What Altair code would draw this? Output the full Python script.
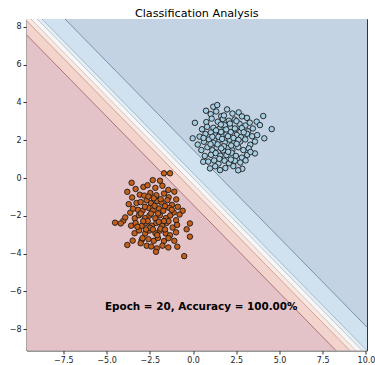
import altair as alt
import pandas as pd

# ---------------- data ----------------
title_text = "Classification Analysis"
note_text = "Epoch = 20, Accuracy = 100.00%"
note_x = [-5.09]
note_y = [-6.82]

x_domain = [-9.63, 10.06]
y_domain = [-9.12, 8.41]
x_ticks = [-7.5, -5.0, -2.5, 0.0, 2.5, 5.0, 7.5, 10.0]
y_ticks = [-8, -6, -4, -2, 0, 2, 4, 6, 8]

# decision-boundary contour lines: y = slope * x + intercept
boundary_slope = -0.933
boundary_intercepts = [-1.41, -0.66, -0.33, 0.00, 0.26, 1.50]
band_names = ["b0", "b1", "b2", "b3", "b4", "b5", "b6"]
band_colors = ["#e4c3c8", "#f2d4cd", "#f9e8e2", "#f7f7f7", "#e4eef5", "#d0e2ef", "#c3d3e3"]
line_names = ["l0", "l1", "l2", "l3", "l4", "l5"]
line_colors = ["#9a5560", "#c39085", "#cdb7b0", "#b2bcc6", "#98acc0", "#5f7d99"]

blue_x = [0.11, -0.02, 0.75, 1.17, 1.40, 4.06, 4.55, 4.12, 3.68, 3.87, 2.85, 3.58, 1.56, 0.98, 0.59,
          1.02, 1.34, 1.63, 1.97, 2.28, 2.64, 2.83, 3.12,
          0.77, 1.08, 1.43, 1.72, 2.07, 2.41, 2.69, 3.03, 3.28,
          0.52, 0.81, 1.18, 1.53, 1.84, 2.16, 2.47, 2.82, 3.18, 3.46,
          0.38, 0.72, 1.03, 1.29, 1.62, 1.93, 2.18, 2.53, 2.77, 3.12, 3.42, 3.71,
          0.27, 0.63, 0.92, 1.17, 1.52, 1.83, 2.12, 2.37, 2.73, 3.02, 3.31, 3.58,
          0.48, 0.83, 1.12, 1.37, 1.73, 2.03, 2.27, 2.62, 2.91, 3.22,
          0.68, 1.04, 1.31, 1.58, 1.93, 2.23, 2.48, 2.82, 3.13,
          0.88, 1.22, 1.47, 1.82, 2.08, 2.42, 2.73, 3.04,
          1.28, 1.87, 2.33, 2.61,
          1.47, 1.68, 1.92, 2.02, 2.34, 1.42, 2.21, 1.61, 2.63, 1.12, 2.03, 1.78, 2.42, 1.33,
          2.93, 1.01, 2.52, 1.63, 2.13, 1.79, 2.51, 1.52, 2.19, 0.61, 3.32]
blue_y = [2.92, 2.10, 3.56, 3.77, 3.86, 3.28, 2.59, 2.10, 2.98, 2.80, 0.49, 1.30, 0.42, 0.51, 0.86,
          3.38, 3.52, 3.27, 3.63, 3.41, 3.47, 3.26, 3.18,
          2.96, 3.14, 2.98, 3.12, 3.03, 3.09, 2.87, 2.78, 2.93,
          2.58, 2.71, 2.66, 2.61, 2.79, 2.69, 2.57, 2.64, 2.47, 2.62,
          2.19, 2.33, 2.41, 2.27, 2.44, 2.31, 2.43, 2.28, 2.16, 2.34, 2.21, 2.27,
          1.77, 1.92, 2.04, 1.87, 2.02, 1.88, 2.03, 1.86, 1.93, 2.04, 1.76, 1.93,
          1.48, 1.63, 1.47, 1.62, 1.46, 1.58, 1.47, 1.63, 1.48, 1.57,
          1.17, 1.23, 1.32, 1.18, 1.21, 1.34, 1.17, 1.08, 1.22,
          0.87, 0.93, 0.77, 0.92, 0.78, 0.91, 0.82, 0.93,
          0.62, 0.53, 0.63, 0.41,
          2.18, 2.07, 2.57, 2.21, 2.12, 1.78, 1.72, 2.83, 2.02, 2.18, 1.39, 1.68, 2.62, 2.52,
          2.42, 1.79, 1.81, 1.57, 2.88, 3.31, 3.01, 1.02, 0.98, 2.12, 1.38]

orange_x = [-4.51, -4.03, -4.18, -3.55, -3.80, -2.33, -1.91, -1.68, -1.33, -0.18, -0.37, -0.60,
            -0.18, -0.51, -0.91, -1.43, -2.10, -2.14, -2.68, -3.80, -3.49, -2.97, -3.03,
            -3.32, -2.87, -2.63, -2.18, -1.77, -1.43, -1.08,
            -3.52, -3.08, -2.82, -2.47, -2.12, -1.68, -1.41, -0.97,
            -3.72, -3.27, -3.03, -2.68, -2.43, -2.08, -1.82, -1.48, -1.22, -0.88,
            -3.63, -3.18, -2.92, -2.57, -2.33, -1.97, -1.72, -1.38, -1.12, -0.78,
            -3.92, -3.37, -3.13, -2.77, -2.52, -2.18, -1.92, -1.57, -1.32, -0.98,
            -3.58, -3.32, -2.97, -2.72, -2.38, -2.12, -1.78, -1.52, -1.18, -0.92,
            -3.38, -3.12, -2.77, -2.53, -2.17, -1.92, -1.58, -1.33, -0.98,
            -2.92, -2.58, -2.27, -2.03, -1.68, -1.42, -1.08,
            -2.42, -1.77,
            -2.43, -2.62, -1.98, -2.22, -2.78, -1.62, -2.48, -1.88, -2.72, -3.02, -1.42, -2.27,
            -1.87, -2.88, -2.02, -2.32, -3.22, -1.68, -2.58, -1.62, -1.23, -3.47, -2.07]
orange_y = [-2.36, -2.26, -2.40, -0.25, -0.73, -0.11, -0.14, 0.25, 0.25, -2.40, -2.71, -1.73,
            -3.10, -4.13, -3.63, -3.67, -3.72, -3.90, -3.58, -3.54, -3.31, -3.28, -3.45,
            -0.58, -0.47, -0.38, -0.52, -0.41, -0.63, -0.72,
            -1.03, -0.88, -0.93, -0.79, -0.91, -0.82, -1.02, -1.13,
            -1.38, -1.32, -1.27, -1.18, -1.33, -1.22, -1.29, -1.17, -1.42, -1.52,
            -1.83, -1.68, -1.73, -1.58, -1.72, -1.61, -1.73, -1.58, -1.82, -1.93,
            -2.08, -2.13, -1.97, -2.12, -1.98, -2.13, -1.97, -2.12, -1.98, -2.23,
            -2.52, -2.38, -2.53, -2.37, -2.52, -2.38, -2.53, -2.37, -2.62, -2.48,
            -2.92, -2.77, -2.93, -2.78, -2.92, -2.78, -2.93, -3.03, -2.87,
            -3.18, -3.23, -3.32, -3.17, -3.33, -3.18, -3.32,
            -3.62, -3.58,
            -1.88, -2.27, -2.32, -1.47, -1.52, -1.48, -2.63, -2.68, -2.72, -1.88, -2.28, -1.07,
            -1.12, -2.28, -1.87, -2.72, -2.58, -2.27, -0.98, -2.72, -1.68, -1.62, -3.02]

# ---------------- tables built from the arrays ----------------
far = 60.0
lows = [-far] + boundary_intercepts
highs = boundary_intercepts + [far]
band_rows = []
for name, lo, hi in zip(band_names, lows, highs):
    for xv in x_domain:
        band_rows.append({"band": name, "x": xv,
                          "y": boundary_slope * xv + lo,
                          "y2": boundary_slope * xv + hi})
bands_df = pd.DataFrame(band_rows)

line_rows = []
for name, c in zip(line_names, boundary_intercepts):
    for xv in x_domain:
        line_rows.append({"band": name, "x": xv, "y": boundary_slope * xv + c})
lines_df = pd.DataFrame(line_rows)

blue_df = pd.DataFrame({"x": blue_x, "y": blue_y})
orange_df = pd.DataFrame({"x": orange_x, "y": orange_y})
note_df = pd.DataFrame({"x": note_x, "y": note_y, "t": [note_text]})

# ---------------- encodings ----------------
FONT = "DejaVu Sans"
x_enc = alt.X("x:Q", scale=alt.Scale(domain=x_domain, nice=False, zero=False),
              axis=alt.Axis(values=x_ticks, title=None, grid=False, domain=False,
                            labelExpr="replace(format(datum.value, '.1f'), '-', '\u2212')",
                            tickSize=3.5, tickColor="#333", labelColor="#222",
                            labelFont=FONT, labelFontSize=8, labelPadding=2))
y_enc = alt.Y("y:Q", scale=alt.Scale(domain=y_domain, nice=False, zero=False),
              axis=alt.Axis(values=y_ticks, title=None, grid=False, domain=False,
                            labelExpr="replace(format(datum.value, 'd'), '-', '\u2212')",
                            tickSize=3.5, tickColor="#333", labelColor="#222",
                            labelFont=FONT, labelFontSize=8, labelPadding=2))

color_scale = alt.Scale(domain=band_names + line_names, range=band_colors + line_colors)

areas = alt.Chart(bands_df).mark_area(clip=True, opacity=1).encode(
    x=x_enc, y=y_enc, y2="y2:Q",
    color=alt.Color("band:N", scale=color_scale, legend=None))

lines = alt.Chart(lines_df).mark_line(clip=True, strokeWidth=0.8).encode(
    x=x_enc, y=y_enc,
    color=alt.Color("band:N", scale=color_scale, legend=None))

orange_pts = alt.Chart(orange_df).mark_point(
    filled=True, shape="circle", size=30, fill="#c45f1c", stroke="#1a1a1a",
    strokeWidth=0.9, opacity=1).encode(x=x_enc, y=y_enc)

blue_pts = alt.Chart(blue_df).mark_point(
    filled=True, shape="circle", size=30, fill="#a6cee3", stroke="#1a1a1a",
    strokeWidth=0.9, opacity=1).encode(x=x_enc, y=y_enc)

note = alt.Chart(note_df).mark_text(
    align="left", baseline="middle", font=FONT, fontSize=10.4,
    fontWeight="bold", color="black").encode(x=x_enc, y=y_enc, text="t:N")

chart = alt.layer(areas, lines, orange_pts, blue_pts, note).properties(
    width=340.5, height=331.5,
    title=alt.TitleParams(title_text, font=FONT, fontSize=11.2, fontWeight="normal",
                          color="black", anchor="middle", offset=0),
    padding={"left": 26.5, "top": 19, "right": 8, "bottom": 14.5},
    autosize=alt.AutoSizeParams(type="none"),
    background="white",
).configure_view(stroke="#333", strokeWidth=1)

chart.save("out.html", embed_options={"renderer": "svg", "actions": False})
